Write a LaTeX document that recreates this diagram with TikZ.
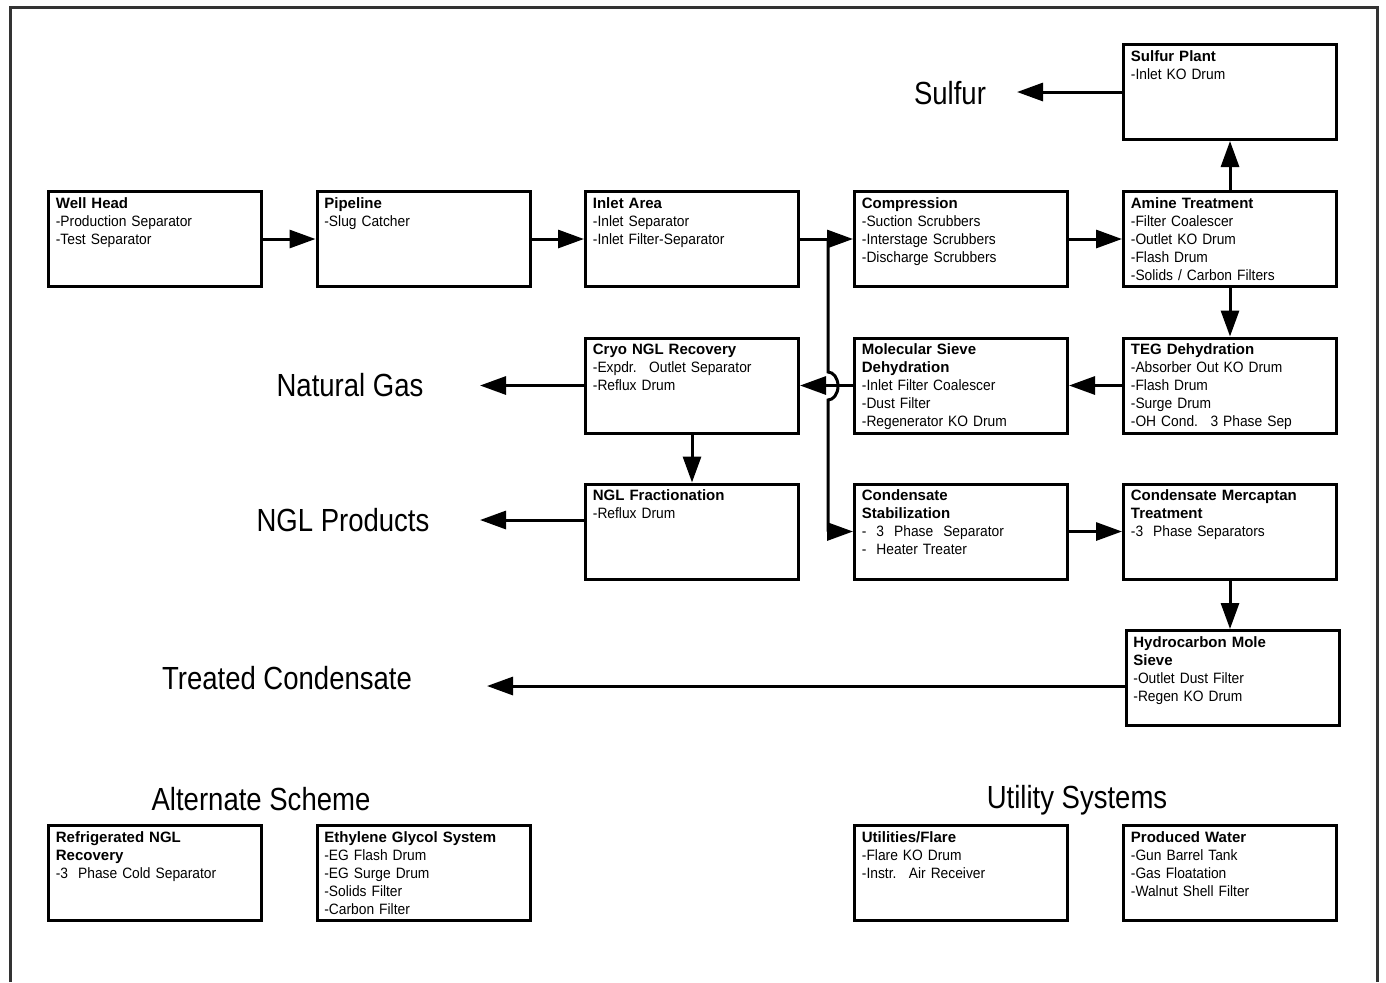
\documentclass[tikz,border=0pt]{standalone}
\usepackage{fontspec}
\setmainfont{Liberation Sans}
\newfontfamily\itemfont{Liberation Sans}[FakeStretch=0.92]
\newfontfamily\streamfont{Liberation Sans}[FakeStretch=0.86]
\usetikzlibrary{arrows.meta,positioning}
\definecolor{FrameClr}{rgb}{0.2,0.2,0.2}

\tikzset{
  unit/.style={draw, line width=1.5pt, minimum width=106.5pt, minimum height=47.5pt, inner sep=0pt},
  unittext/.style={inner sep=0pt, align=left, text width=102pt, font=\fontsize{7.5}{9}\selectfont},
  stream/.style={inner sep=0pt, font=\streamfont\fontsize{16}{19}\selectfont},
  flow/.style={line width=1.5pt, -{Triangle[length=13pt,width=9pt]}},
}

\begin{document}
\begin{tikzpicture}[x=0.5pt,y=-0.5pt]
\useasboundingbox (0,0) rectangle (1386,982);
\draw[FrameClr, line width=1.5pt] (10,982) -- (10,7) -- (1377,7) -- (1377,982);

\node[unit] (wellhead) at (155,239) {};
\node[unit] (pipeline) at (423.5,239) {};
\node[unit] (inlet) at (692,239) {};
\node[unit] (compr) at (961,239) {};
\node[unit] (amine) at (1230,239) {};
\node[unit] (sulfur) at (1230,92) {};
\node[unit] (cryo) at (692,385.5) {};
\node[unit] (molsieve) at (961,385.5) {};
\node[unit] (teg) at (1230,385.5) {};
\node[unit] (nglfrac) at (692,531.5) {};
\node[unit] (condstab) at (961,531.5) {};
\node[unit] (condmerc) at (1230,531.5) {};
\node[unit] (hcsieve) at (1232.5,678) {};
\node[unit] (refrig) at (155,873) {};
\node[unit] (eg) at (423.5,873) {};
\node[unit] (util) at (961,873) {};
\node[unit] (water) at (1230,873) {};

\node[unittext, below right=3.6pt and 4.25pt of wellhead.north west] (wellhead-t)
  {\textbf{Well Head}\\\itemfont -Production Separator\\-Test Separator};
\node[unittext, below right=3.6pt and 4.25pt of pipeline.north west] (pipeline-t)
  {\textbf{Pipeline}\\\itemfont -Slug Catcher};
\node[unittext, below right=3.6pt and 4.25pt of inlet.north west] (inlet-t)
  {\textbf{Inlet Area}\\\itemfont -Inlet Separator\\-Inlet Filter-Separator};
\node[unittext, below right=3.6pt and 4.25pt of compr.north west] (compr-t)
  {\textbf{Compression}\\\itemfont -Suction Scrubbers\\-Interstage Scrubbers\\-Discharge Scrubbers};
\node[unittext, below right=3.6pt and 4.25pt of amine.north west] (amine-t)
  {\textbf{Amine Treatment}\\\itemfont -Filter Coalescer\\-Outlet KO Drum\\-Flash Drum\\-Solids / Carbon Filters};
\node[unittext, below right=3.6pt and 4.25pt of sulfur.north west] (sulfur-t)
  {\textbf{Sulfur Plant}\\\itemfont -Inlet KO Drum};
\node[unittext, below right=3.6pt and 4.25pt of cryo.north west] (cryo-t)
  {\textbf{Cryo NGL Recovery}\\\itemfont -Expdr. \ Outlet Separator\\-Reflux Drum};
\node[unittext, below right=3.6pt and 4.25pt of molsieve.north west] (molsieve-t)
  {\textbf{Molecular Sieve}\\\textbf{Dehydration}\\\itemfont -Inlet Filter Coalescer\\-Dust Filter\\-Regenerator KO Drum};
\node[unittext, below right=3.6pt and 4.25pt of teg.north west] (teg-t)
  {\textbf{TEG Dehydration}\\\itemfont -Absorber Out KO Drum\\-Flash Drum\\-Surge Drum\\-OH Cond. \ 3 Phase Sep};
\node[unittext, below right=3.6pt and 4.25pt of nglfrac.north west] (nglfrac-t)
  {\textbf{NGL Fractionation}\\\itemfont -Reflux Drum};
\node[unittext, below right=3.6pt and 4.25pt of condstab.north west] (condstab-t)
  {\textbf{Condensate}\\\textbf{Stabilization}\\\itemfont - \ 3 \ Phase \ Separator\\- \ Heater Treater};
\node[unittext, below right=3.6pt and 4.25pt of condmerc.north west] (condmerc-t)
  {\textbf{Condensate Mercaptan}\\\textbf{Treatment}\\\itemfont -3 \ Phase Separators};
\node[unittext, below right=3.6pt and 4.25pt of hcsieve.north west] (hcsieve-t)
  {\textbf{Hydrocarbon Mole}\\\textbf{Sieve}\\\itemfont -Outlet Dust Filter\\-Regen KO Drum};
\node[unittext, below right=3.6pt and 4.25pt of refrig.north west] (refrig-t)
  {\textbf{Refrigerated NGL}\\\textbf{Recovery}\\\itemfont -3 \ Phase Cold Separator};
\node[unittext, below right=3.6pt and 4.25pt of eg.north west] (eg-t)
  {\textbf{Ethylene Glycol System}\\\itemfont -EG Flash Drum\\-EG Surge Drum\\-Solids Filter\\-Carbon Filter};
\node[unittext, below right=3.6pt and 4.25pt of util.north west] (util-t)
  {\textbf{Utilities/Flare}\\\itemfont -Flare KO Drum\\-Instr. \ Air Receiver};
\node[unittext, below right=3.6pt and 4.25pt of water.north west] (water-t)
  {\textbf{Produced Water}\\\itemfont -Gun Barrel Tank\\-Gas Floatation\\-Walnut Shell Filter};

\node[stream] (sulfurlbl) at (950,93) {Sulfur};
\node[stream] (gaslbl) at (350,385) {Natural Gas};
\node[stream] (ngllbl) at (343,520) {NGL Products};
\node[stream] (condlbl) at (287,678) {Treated Condensate};
\node[stream] (altlbl) at (261,799) {Alternate Scheme};
\node[stream] (utillbl) at (1077,800) {Utility Systems};

\coordinate (sulfurTip) at (1017,92);
\coordinate (gasTip) at (480,385.5);
\coordinate (nglTip) at (480,520);
\coordinate (condTip) at (487,686);
\coordinate (split) at (828,239);
\coordinate (jumpTop) at (828,372);
\coordinate (bend) at (828,531.5);

\draw[flow] (wellhead) -- (pipeline);
\draw[flow] (pipeline) -- (inlet);
\draw[flow] (inlet.east) -- (split) -- (compr.west);
\draw[flow] (split) -- (jumpTop) arc[start angle=90, end angle=-90, x radius=5pt, y radius=7pt] -- (bend) -- (condstab.west);
\draw[flow] (compr) -- (amine);
\draw[flow] (amine) -- (sulfur);
\draw[flow] (sulfur.west) -- (sulfurTip);
\draw[flow] (amine) -- (teg);
\draw[flow] (teg) -- (molsieve);
\draw[flow] (molsieve.west) -- (cryo.east);
\draw[flow] (cryo.west) -- (gasTip);
\draw[flow] (cryo) -- (nglfrac);
\draw[flow] (nglfrac.west |- nglTip) -- (nglTip);
\draw[flow] (condstab) -- (condmerc);
\draw[flow] (condmerc.south) -- (condmerc.south |- hcsieve.north);
\draw[flow] (hcsieve.west |- condTip) -- (condTip);

\end{tikzpicture}
\end{document}
